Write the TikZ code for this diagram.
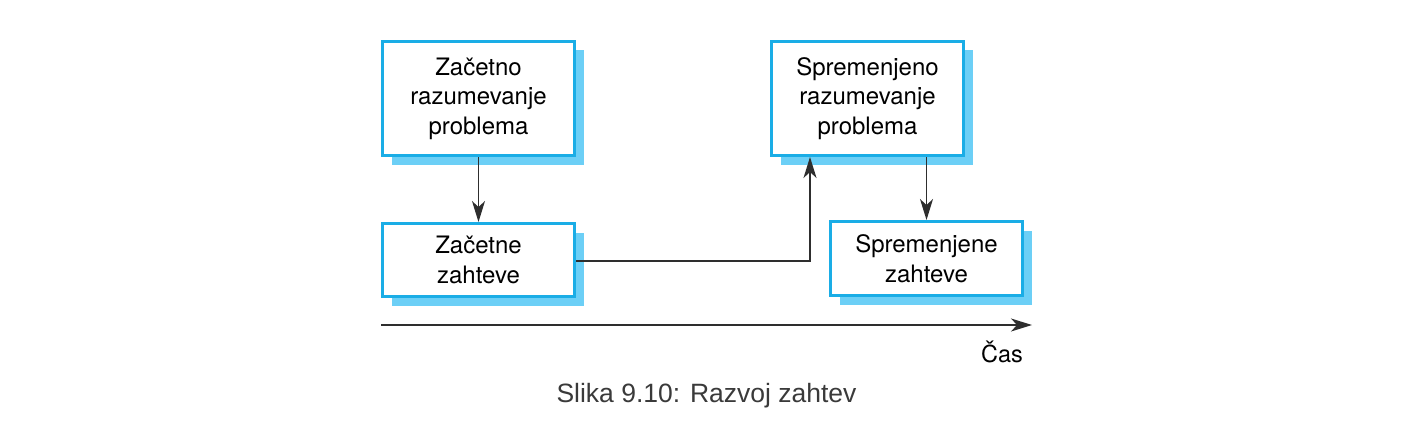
\documentclass[tikz,border=0pt]{standalone}
\usepackage{fontspec}
\setmainfont{TeX Gyre Heros}
\newfontfamily\capfont{Liberation Sans}
\usetikzlibrary{arrows.meta,shadows}
\definecolor{boxline}{HTML}{1AADE6}
\definecolor{shadowc}{HTML}{6CCFF6}
\definecolor{linec}{HTML}{2E2E2E}
\definecolor{capc}{HTML}{3A3A3A}
\begin{document}
\begin{tikzpicture}[x=1pt,y=-1pt,
  boxn/.style={draw=boxline, line width=3pt, fill=white, align=center,
    inner sep=0pt, font=\fontsize{24}{29.5}\selectfont,
    drop shadow={shadow xshift=9pt, shadow yshift=-9pt, fill=shadowc, opacity=1}},
  conn/.style={draw=linec, line width=1.5pt, -{Stealth[length=21pt,width=13pt,inset=6pt]}}]
\useasboundingbox (0,0) rectangle (1413,436);
\node[boxn, minimum width=192pt, minimum height=114pt] (b1) at (478.5,98.5)
  {Začetno\\razumevanje\\problema};
\node[boxn, minimum width=192pt, minimum height=73pt] (b2) at (478.5,260)
  {Začetne\\zahteve};
\node[boxn, minimum width=192pt, minimum height=114pt] (b3) at (867.5,98.5)
  {Spremenjeno\\razumevanje\\problema};
\node[boxn, minimum width=192pt, minimum height=74pt] (b4) at (926.5,258.5)
  {Spremenjene\\zahteve};
\coordinate (turn) at (810,261);
\draw[conn] (b1.south) -- (b2.north);
\draw[conn] (b2.east |- turn) -- (turn) -- (turn |- b3.south);
\draw[conn] (b4.north |- b3.south) -- (b4.north);
\coordinate (t0) at (381,325);
\coordinate (t1) at (1032,325);
\draw[conn] (t0) -- (t1);
\node[font=\fontsize{23.5}{26}\selectfont] (cas) at (1002,352) {Čas};
\node[font=\capfont\fontsize{26.5}{30}\selectfont, text=capc] (cap) at (706.5,396) {Slika 9.10: Razvoj zahtev};
\end{tikzpicture}
\end{document}
